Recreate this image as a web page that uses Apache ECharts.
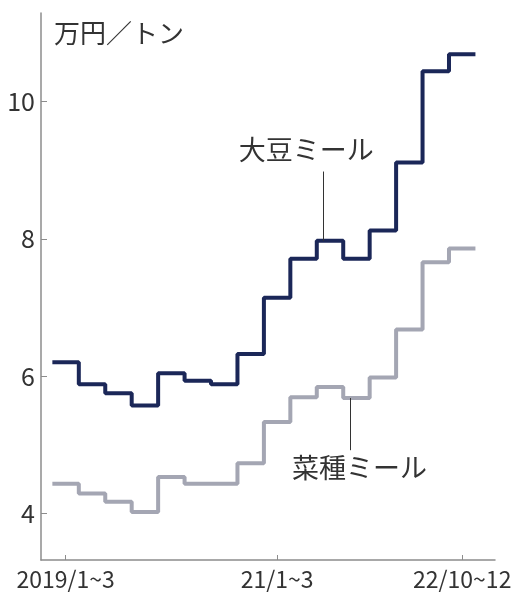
<!DOCTYPE html>
<html>
<head>
<meta charset="utf-8">
<script src="https://cdn.jsdelivr.net/npm/echarts@6/dist/echarts.min.js"></script>
<style>
  html, body { margin: 0; padding: 0; background: #fff; }
  #main { width: 511px; height: 594px; }
</style>
</head>
<body>
<div id="main"></div>
<script>
// quarterly price, 万円/トン, 2019/1~3 .. 2022/10~12
const quarters = [
  '2019/1~3', '2019/4~6', '2019/7~9', '2019/10~12',
  '20/1~3', '20/4~6', '20/7~9', '20/10~12',
  '21/1~3', '21/4~6', '21/7~9', '21/10~12',
  '22/1~3', '22/4~6', '22/7~9', '22/10~12'
];
const soybeanMeal = [6.20, 5.88, 5.75, 5.57, 6.04, 5.93, 5.88, 6.32, 7.14, 7.71, 7.97, 7.71, 8.12, 9.11, 10.44, 10.69];
const rapeseedMeal = [4.43, 4.29, 4.17, 4.02, 4.53, 4.43, 4.43, 4.73, 5.33, 5.69, 5.84, 5.68, 5.98, 6.68, 7.66, 7.86];
const tickLabels = ['2019/1~3', '21/1~3', '22/10~12'];
const tickQuarters = [0, 8, 15];
const yTicks = [4, 6, 8, 10];

const textColor = '#333';
const cjk = '"Noto Sans CJK JP", sans-serif';

// each quarter holds its value from its start to the next quarter's start
function toSteps(values) {
  const pts = values.map((v, i) => [i, v]);
  pts.push([values.length, values[values.length - 1]]);
  return pts;
}

window.onload = function () {
  const myChart = echarts.init(document.getElementById('main'));

  const options = {
    animation: false,
    title: {
      text: '万円／トン',
      left: 49,
      top: 15,
      textStyle: { fontFamily: cjk, fontSize: 26, fontWeight: 'normal', color: textColor }
    },
    grid: { left: 41, right: 16, top: 13, bottom: 34, outerBoundsMode: 'none', containLabel: false },
    xAxis: {
      type: 'value',
      min: -0.43,
      max: 16.74,
      splitLine: { show: false },
      axisLine: { onZero: false, lineStyle: { color: '#8c8c8c', width: 1.5 } },
      axisTick: {
        inside: true,
        length: 5,
        customValues: tickQuarters.map(q => q + 0.5),
        lineStyle: { color: '#8c8c8c', width: 1 }
      },
      axisLabel: {
        customValues: tickQuarters.map(q => q + 0.5),
        formatter: v => tickLabels[tickQuarters.indexOf(Math.round(v - 0.5))],
        margin: 8,
        fontFamily: cjk,
        fontSize: 23,
        color: textColor
      }
    },
    yAxis: {
      type: 'value',
      min: 3.32,
      max: 11.29,
      splitLine: { show: false },
      axisLine: { show: true, onZero: false, lineStyle: { color: '#8c8c8c', width: 1.5 } },
      axisTick: {
        show: true,
        inside: true,
        length: 6,
        customValues: yTicks,
        lineStyle: { color: '#8c8c8c', width: 1 }
      },
      axisLabel: {
        customValues: yTicks,
        margin: 6,
        fontFamily: cjk,
        fontSize: 25,
        color: textColor
      }
    },
    series: [
      {
        name: '菜種ミール',
        type: 'line',
        step: 'end',
        symbol: 'none',
        data: toSteps(rapeseedMeal),
        lineStyle: { color: '#a4a6b3', width: 4 },
        markLine: {
          silent: true,
          symbol: ['none', 'none'],
          label: { show: false },
          lineStyle: { color: textColor, width: 1, type: 'solid' },
          data: [[{ coord: [11.27, 5.68] }, { coord: [11.27, 4.92] }]]
        },
        markPoint: {
          silent: true,
          symbolSize: 0,
          label: { show: true, formatter: '{b}', fontFamily: cjk, fontSize: 27, color: textColor },
          data: [{ name: '菜種ミール', coord: [11.62, 4.66] }]
        }
      },
      {
        name: '大豆ミール',
        type: 'line',
        step: 'end',
        symbol: 'none',
        data: toSteps(soybeanMeal),
        lineStyle: { color: '#1b2758', width: 4 },
        markLine: {
          silent: true,
          symbol: ['none', 'none'],
          label: { show: false },
          lineStyle: { color: textColor, width: 1, type: 'solid' },
          data: [[{ coord: [10.25, 7.97] }, { coord: [10.25, 8.98] }]]
        },
        markPoint: {
          silent: true,
          symbolSize: 0,
          label: { show: true, formatter: '{b}', fontFamily: cjk, fontSize: 27, color: textColor },
          data: [{ name: '大豆ミール', coord: [9.6, 9.30] }]
        }
      }
    ]
  };

  myChart.setOption(options);
};
</script>
</body>
</html>
